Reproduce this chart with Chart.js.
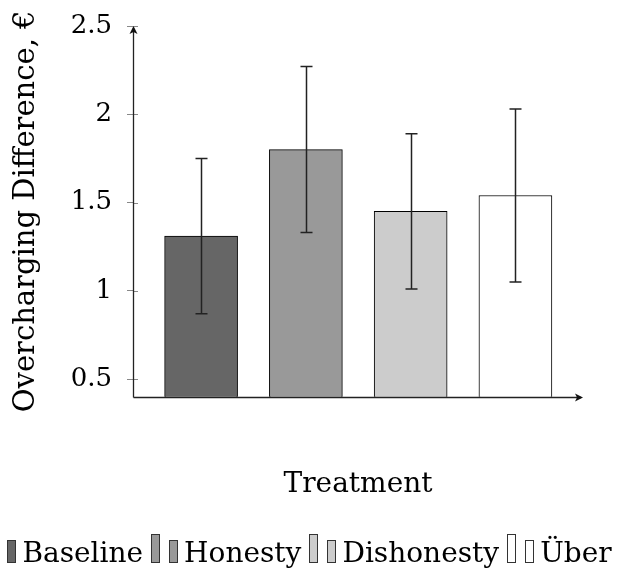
<!DOCTYPE html>
<html>
<head>
<meta charset="utf-8">
<title>Overcharging Difference</title>
<script src="https://cdn.jsdelivr.net/npm/chart.js@4.4.0/dist/chart.umd.min.js"></script>
<style>
  html, body { margin: 0; padding: 0; background: #fff; }
</style>
</head>
<body>
<canvas id="chart" width="620" height="572"></canvas>
<script>
// data
const treatments = ['Baseline', 'Honesty', 'Dishonesty', 'Über'];
const means = [1.31, 1.80, 1.45, 1.54];
const errLow = [0.87, 1.33, 1.01, 1.05];
const errHigh = [1.75, 2.27, 1.89, 2.03];
const yTicks = [0.5, 1, 1.5, 2, 2.5];

const fills = ['#666666', '#999999', '#cccccc', '#ffffff'];
const serif = '"DejaVu Serif", "Liberation Serif", serif';

// error bars on top of the bars
const errorBars = {
    id: 'errorBars',
    afterDatasetsDraw(chart) {
        const { ctx, scales: { x, y } } = chart;
        ctx.save();
        ctx.strokeStyle = '#222';
        ctx.lineWidth = 1.5;
        means.forEach((m, i) => {
            const px = Math.round(x.getPixelForValue(i + 1)) + 0.5;
            const top = y.getPixelForValue(errHigh[i]);
            const bot = y.getPixelForValue(errLow[i]);
            ctx.beginPath();
            ctx.moveTo(px, top); ctx.lineTo(px, bot);
            ctx.moveTo(px - 6, top); ctx.lineTo(px + 6, top);
            ctx.moveTo(px - 6, bot); ctx.lineTo(px + 6, bot);
            ctx.stroke();
        });
        ctx.restore();
    }
};

// axis lines with arrow heads, inner ticks on the y axis
const arrowAxes = {
    id: 'arrowAxes',
    afterDatasetsDraw(chart) {
        const { ctx, chartArea: a, scales: { y } } = chart;
        ctx.save();
        // inner tick marks
        ctx.strokeStyle = '#888';
        ctx.lineWidth = 1;
        ctx.beginPath();
        yTicks.forEach(v => {
            const py = Math.round(y.getPixelForValue(v)) + 0.5;
            ctx.moveTo(a.left, py); ctx.lineTo(a.left + 5, py);
        });
        ctx.stroke();

        ctx.strokeStyle = '#222';
        ctx.fillStyle = '#111';
        ctx.lineWidth = 1.3;
        const lx = Math.round(a.left) + 0.5;
        const by = Math.round(a.bottom) + 0.5;
        ctx.beginPath();
        ctx.moveTo(lx, by); ctx.lineTo(lx, a.top + 2);
        ctx.moveTo(lx, by); ctx.lineTo(a.right - 2, by);
        ctx.stroke();
        // arrow heads
        ctx.beginPath();
        ctx.moveTo(lx, a.top);
        ctx.lineTo(lx - 4, a.top + 8);
        ctx.lineTo(lx, a.top + 6);
        ctx.lineTo(lx + 4, a.top + 8);
        ctx.closePath();
        ctx.fill();
        ctx.beginPath();
        ctx.moveTo(a.right, by);
        ctx.lineTo(a.right - 8, by - 4);
        ctx.lineTo(a.right - 6, by);
        ctx.lineTo(a.right - 8, by + 4);
        ctx.closePath();
        ctx.fill();
        ctx.restore();
    }
};

// pgfplots style bar legend below the plot
const barLegend = {
    id: 'barLegend',
    afterDraw(chart) {
        const ctx = chart.ctx;
        ctx.save();
        ctx.font = '28px ' + serif;
        ctx.textBaseline = 'alphabetic';
        const widths = treatments.map(t => ctx.measureText(t).width);
        const total = widths.reduce((s, w) => s + 8 + 10 + 8 + 7 + w, 0) + 8 * (treatments.length - 1);
        let x = 300.5 - total / 2;
        const base = 562;
        treatments.forEach((t, i) => {
            ctx.fillStyle = fills[i];
            ctx.strokeStyle = '#333';
            ctx.lineWidth = 1;
            ctx.fillRect(x, base - 28, 8, 28);
            ctx.strokeRect(Math.round(x) + 0.5, base - 28 + 0.5, 8, 28);
            x += 18;
            ctx.fillRect(x, base - 22, 8, 22);
            ctx.strokeRect(Math.round(x) + 0.5, base - 22 + 0.5, 8, 22);
            x += 15;
            ctx.fillStyle = '#000';
            ctx.fillText(t, x, base);
            x += widths[i] + 8;
        });
        ctx.restore();
    }
};

new Chart(document.getElementById('chart'), {
    type: 'bar',
    data: {
        datasets: treatments.map((t, i) => ({
            label: t,
            data: [{ x: i + 1, y: means[i] }],
            backgroundColor: fills[i],
            borderColor: '#000',
            borderWidth: 1,
            barThickness: 73,
            grouped: false
        }))
    },
    options: {
        responsive: false,
        animation: false,
        devicePixelRatio: 1,
        layout: { padding: { top: 26, right: 37, left: 0, bottom: 0 } },
        plugins: {
            legend: { display: false },
            tooltip: { enabled: false }
        },
        scales: {
            x: {
                type: 'linear',
                offset: false,
                min: 0.35,
                max: 4.645,
                ticks: { display: false },
                grid: { display: false },
                border: { display: false },
                title: {
                    display: true,
                    text: 'Treatment',
                    color: '#000',
                    font: { family: serif, size: 28 },
                    padding: { top: 0, bottom: 70 }
                },
                afterFit(scale) { scale.height = 175.3; }
            },
            y: {
                min: 0.4,
                max: 2.5,
                afterBuildTicks(scale) { scale.ticks = yTicks.map(v => ({ value: v })); },
                ticks: {
                    color: '#000',
                    padding: 15,
                    font: { family: serif, size: 26 },
                    callback: v => String(v)
                },
                grid: { drawOnChartArea: false, tickLength: 6, color: '#888' },
                border: { display: false },
                title: {
                    display: true,
                    text: 'Overcharging Difference, €',
                    color: '#000',
                    font: { family: serif, size: 29 },
                    padding: { top: 9, bottom: 0 }
                },
                afterFit(scale) {
                    scale.width = 133;
                    scale.paddingTop = 0;
                    scale.paddingBottom = 0;
                }
            }
        }
    },
    plugins: [errorBars, arrowAxes, barLegend]
});
</script>
</body>
</html>
